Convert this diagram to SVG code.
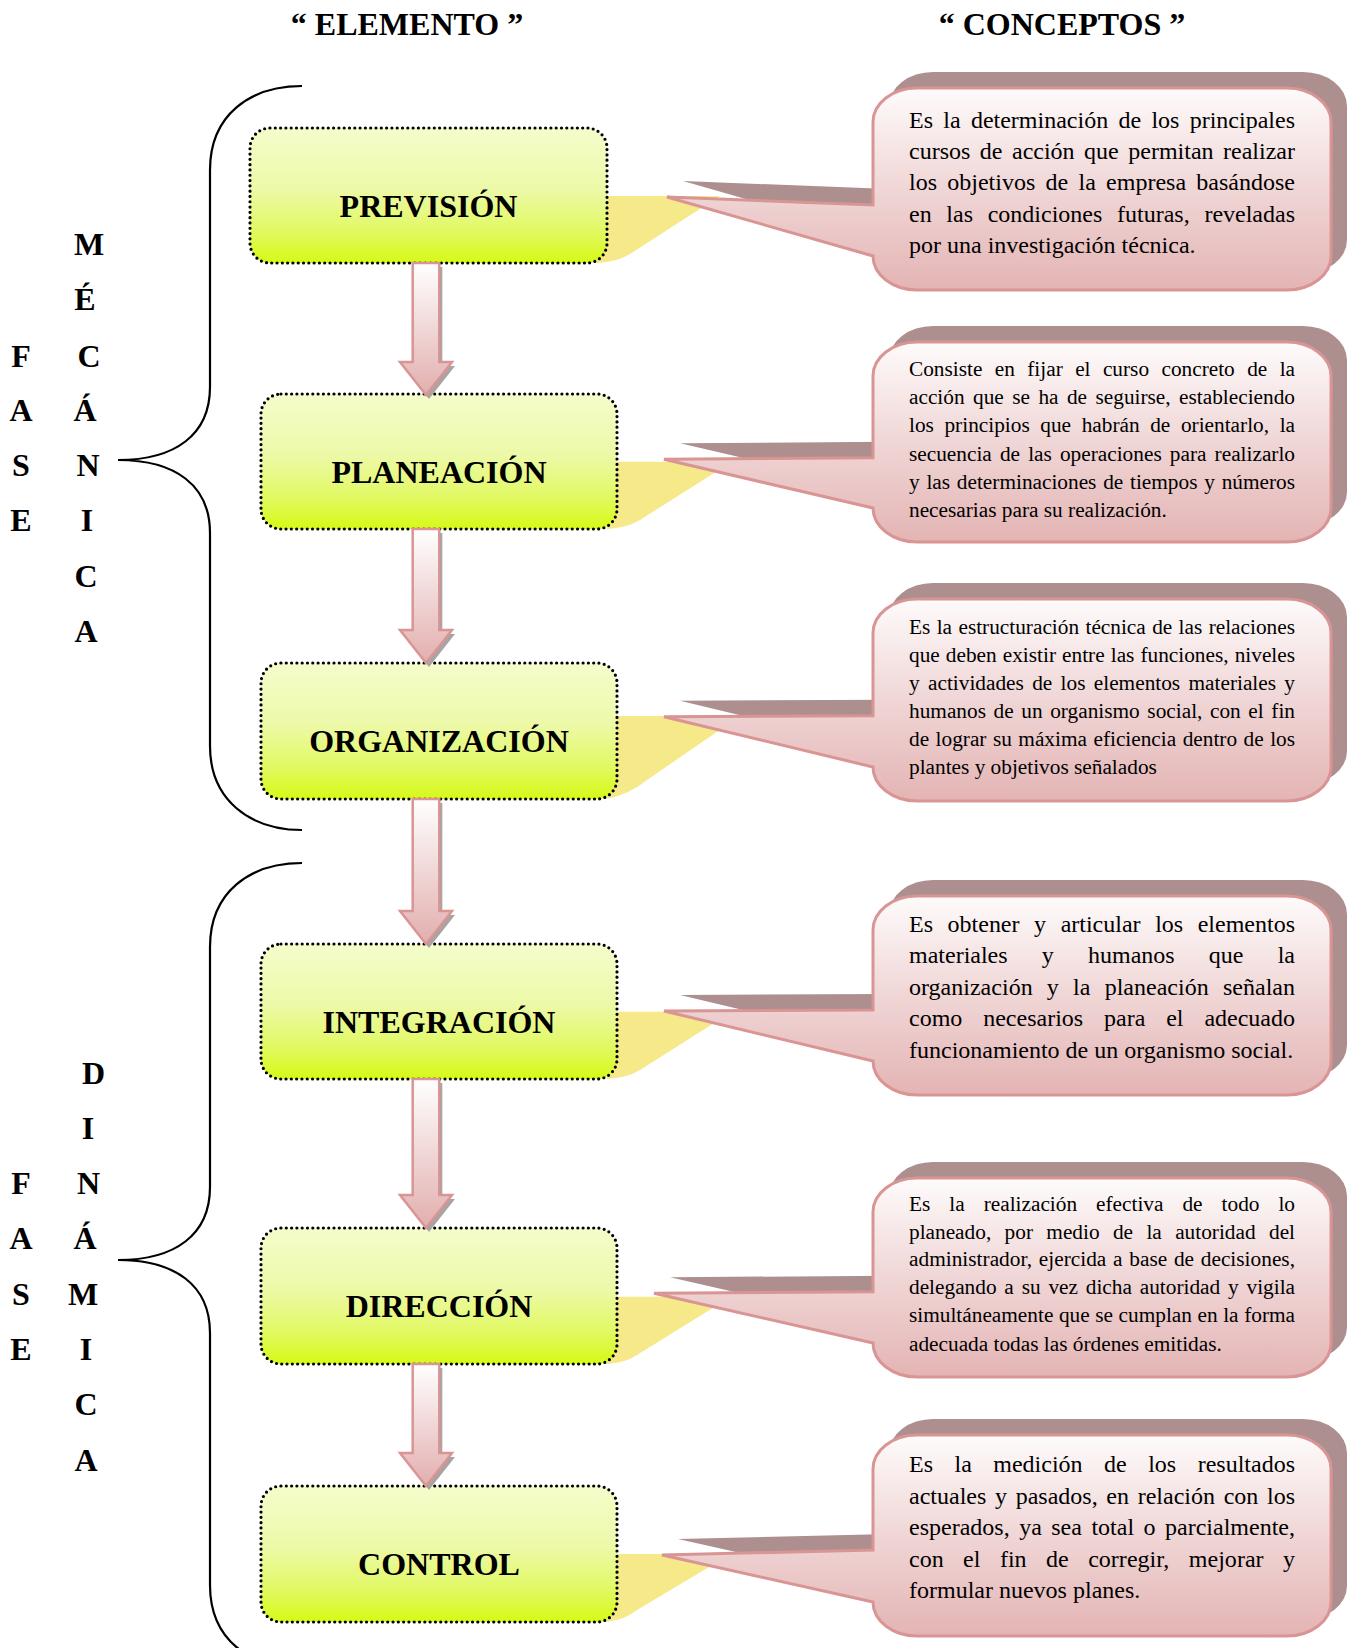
<svg xmlns="http://www.w3.org/2000/svg" xmlns:xlink="http://www.w3.org/1999/xlink" width="1351" height="1648" viewBox="0 0 1351 1648">
<defs>
<linearGradient id="gBox" x1="0" y1="0" x2="0" y2="1">
<stop offset="0" stop-color="#f4fdcc"/>
<stop offset="0.45" stop-color="#edf9a8"/>
<stop offset="0.75" stop-color="#e2f966"/>
<stop offset="1" stop-color="#d7f916"/>
</linearGradient>
<linearGradient id="gBub" x1="0" y1="0" x2="0" y2="1">
<stop offset="0" stop-color="#fefbfb"/>
<stop offset="0.5" stop-color="#f0d6d6"/>
<stop offset="1" stop-color="#e4b4b4"/>
</linearGradient>
<linearGradient id="gArr" x1="0" y1="0" x2="0" y2="1">
<stop offset="0" stop-color="#ffffff"/>
<stop offset="1" stop-color="#e2aeae"/>
</linearGradient>
<path id="p1" d="M917,88 H1287 A44,34 0 0 1 1331,122 V256 A44,34 0 0 1 1287,290 H917 A44,34 0 0 1 873,256 L667,197 L873,205 V122 A44,34 0 0 1 917,88 Z"/>
<path id="p2" d="M917,342 H1287 A44,34 0 0 1 1331,376 V508 A44,34 0 0 1 1287,542 H917 A44,34 0 0 1 873,508 L664,459.3 L873,457.7 V376 A44,34 0 0 1 917,342 Z"/>
<path id="p3" d="M917,599 H1287 A44,34 0 0 1 1331,633 V767 A44,34 0 0 1 1287,801 H917 A44,34 0 0 1 873,767 L664,716.7 L873,715.7 V633 A44,34 0 0 1 917,599 Z"/>
<path id="p4" d="M917,896 H1287 A44,34 0 0 1 1331,930 V1061 A44,34 0 0 1 1287,1095 H917 A44,34 0 0 1 873,1061 L664,1011 L873,1010 V930 A44,34 0 0 1 917,896 Z"/>
<path id="p5" d="M917,1178 H1287 A44,34 0 0 1 1331,1212 V1343 A44,34 0 0 1 1287,1377 H917 A44,34 0 0 1 873,1343 L654,1293.3 L873,1291.7 V1212 A44,34 0 0 1 917,1178 Z"/>
<path id="p6" d="M917,1435 H1287 A44,34 0 0 1 1331,1469 V1602 A44,34 0 0 1 1287,1636 H917 A44,34 0 0 1 873,1602 L662,1555 L873,1550 V1469 A44,34 0 0 1 917,1435 Z"/>
</defs>
<style>
.hdr{font-family:"Liberation Serif","Times New Roman",serif;font-weight:bold;font-size:32px;fill:#000;text-anchor:middle}
.lbl{font-family:"Liberation Serif","Times New Roman",serif;font-weight:bold;font-size:32px;fill:#000;text-anchor:middle}
.let{font-family:"Liberation Serif","Times New Roman",serif;font-weight:bold;font-size:32px;fill:#000;text-anchor:middle}
.box{fill:url(#gBox);stroke:#000;stroke-width:3.2;stroke-dasharray:0 5.3;stroke-linecap:round}
.ytail{fill:#f6e98a;stroke:none}
.sh{fill:#ae8f8f;stroke:none}
.bub{fill:url(#gBub);stroke:#d99594;stroke-width:3;stroke-linejoin:miter}
.tl{font-family:"Liberation Serif","Times New Roman",serif;font-size:24px;fill:#000}
.ts{font-family:"Liberation Serif","Times New Roman",serif;font-size:21.3px;fill:#000}
.arr{fill:url(#gArr);stroke:#d99594;stroke-width:2.5;stroke-linejoin:miter}
.arrsh{fill:#a9a3a3;stroke:none}
.brace{fill:none;stroke:#000;stroke-width:2.2}
</style>
<rect x="0" y="0" width="1351" height="1648" fill="#ffffff"/>

<g id="headers">
<text class="hdr" x="407" y="35">“ ELEMENTO ”</text>
<text class="hdr" x="1062" y="35">“ CONCEPTOS ”</text>
</g>

<g id="braces">
<path class="brace" d="M302,86 C250,86 210,115 210,170 L210,387 C210,435 175,460 118,460 C175,460 210,485 210,533 L210,746 C210,800 250,830 302,830"/>
<path class="brace" d="M302,863 C250,863 210,892 210,947 L210,1187 C210,1235 175,1260 118,1260 C175,1260 210,1285 210,1333 L210,1585 C210,1640 250,1668 302,1668"/>
</g>

<g id="fase-mecanica">
<text class="let" x="21" y="366.7">F</text>
<text class="let" x="21" y="421">A</text>
<text class="let" x="21" y="476">S</text>
<text class="let" x="21" y="531">E</text>
<text class="let" x="89" y="255">M</text>
<text class="let" x="85" y="310">É</text>
<text class="let" x="89" y="366.7">C</text>
<text class="let" x="85" y="421">Á</text>
<text class="let" x="88" y="476">N</text>
<text class="let" x="87" y="531">I</text>
<text class="let" x="86" y="586.5">C</text>
<text class="let" x="86" y="642">A</text>
</g>

<g id="fase-dinamica">
<text class="let" x="21" y="1194">F</text>
<text class="let" x="21" y="1249.4">A</text>
<text class="let" x="21" y="1304.7">S</text>
<text class="let" x="21" y="1360">E</text>
<text class="let" x="93.6" y="1083.5">D</text>
<text class="let" x="88" y="1138.8">I</text>
<text class="let" x="88.5" y="1194">N</text>
<text class="let" x="85" y="1249.4">Á</text>
<text class="let" x="83" y="1304.7">M</text>
<text class="let" x="86" y="1360">I</text>
<text class="let" x="86" y="1415">C</text>
<text class="let" x="86" y="1470.6">A</text>
</g>

<g id="node-prevision">
<path class="ytail" d="M600,196 L720,196 L630,254 Q617,262 597,263 Z"/>
<rect class="box" x="250" y="128" width="357" height="135" rx="20" ry="20"/>
<text class="lbl" x="428.5" y="217">PREVISIÓN</text>
</g>
<g id="node-planeacion">
<path class="ytail" d="M610,461.7 L732,461.7 L640,520 Q627,528 607,529 Z"/>
<rect class="box" x="261" y="394" width="356" height="135" rx="20" ry="20"/>
<text class="lbl" x="439" y="483">PLANEACIÓN</text>
</g>
<g id="node-organizacion">
<path class="ytail" d="M610,716 L740,716 L647,780 Q630,794 607,799 Z"/>
<rect class="box" x="261" y="663" width="356" height="136" rx="20" ry="20"/>
<text class="lbl" x="439" y="752">ORGANIZACIÓN</text>
</g>
<g id="node-integracion">
<path class="ytail" d="M610,1011.7 L732,1011.7 L640,1070 Q627,1078 607,1079 Z"/>
<rect class="box" x="261" y="944" width="356" height="135" rx="20" ry="20"/>
<text class="lbl" x="439" y="1033">INTEGRACIÓN</text>
</g>
<g id="node-direccion">
<path class="ytail" d="M610,1296.7 L731,1296.7 L637,1355 Q625,1363 607,1364 Z"/>
<rect class="box" x="261" y="1228" width="356" height="136" rx="20" ry="20"/>
<text class="lbl" x="439" y="1317">DIRECCIÓN</text>
</g>
<g id="node-control">
<path class="ytail" d="M610,1554 L731,1554 L637,1610 Q625,1620 607,1621.7 Z"/>
<rect class="box" x="261" y="1486" width="356" height="136" rx="20" ry="20"/>
<text class="lbl" x="439" y="1575">CONTROL</text>
</g>

<g id="connectors">
<path class="arrsh" transform="translate(3,4)" d="M412.7,263 H439.3 V362 H452 L426,395 L400,362 H412.7 Z"/>
<path class="arr" d="M412.7,263 H439.3 V362 H452 L426,395 L400,362 H412.7 Z"/>
<path class="arrsh" transform="translate(3,4)" d="M412.7,529 H439.3 V630 H452 L426,663 L400,630 H412.7 Z"/>
<path class="arr" d="M412.7,529 H439.3 V630 H452 L426,663 L400,630 H412.7 Z"/>
<path class="arrsh" transform="translate(3,4)" d="M412.7,799 H439.3 V911 H452 L426,944 L400,911 H412.7 Z"/>
<path class="arr" d="M412.7,799 H439.3 V911 H452 L426,944 L400,911 H412.7 Z"/>
<path class="arrsh" transform="translate(3,4)" d="M412.7,1079 H439.3 V1195 H452 L426,1228 L400,1195 H412.7 Z"/>
<path class="arr" d="M412.7,1079 H439.3 V1195 H452 L426,1228 L400,1195 H412.7 Z"/>
<path class="arrsh" transform="translate(3,4)" d="M412.7,1364 H439.3 V1453 H452 L426,1486 L400,1453 H412.7 Z"/>
<path class="arr" d="M412.7,1364 H439.3 V1453 H452 L426,1486 L400,1453 H412.7 Z"/>
</g>

<g id="concept-prevision">
<use xlink:href="#p1" class="sh" transform="translate(16,-16)"/>
<use xlink:href="#p1" class="bub"/>
<text class="tl" x="909" y="127.5" word-spacing="4.28" textLength="386" lengthAdjust="spacing">Es la determinación de los principales</text>
<text class="tl" x="909" y="159" word-spacing="3.49" textLength="386" lengthAdjust="spacing">cursos de acción que permitan realizar</text>
<text class="tl" x="909" y="190.4" word-spacing="4.28" textLength="386" lengthAdjust="spacing">los objetivos de la empresa basándose</text>
<text class="tl" x="909" y="221.9" word-spacing="8.69" textLength="386" lengthAdjust="spacing">en las condiciones futuras, reveladas</text>
<text class="tl" x="909" y="253.3">por una investigación técnica.</text>
</g>

<g id="concept-planeacion">
<use xlink:href="#p2" class="sh" transform="translate(16,-16)"/>
<use xlink:href="#p2" class="bub"/>
<text class="ts" x="909" y="376" word-spacing="7.06" textLength="386" lengthAdjust="spacing">Consiste en fijar el curso concreto de la</text>
<text class="ts" x="909" y="404.2" word-spacing="3.11" textLength="386" lengthAdjust="spacing">acción que se ha de seguirse, estableciendo</text>
<text class="ts" x="909" y="432.4" word-spacing="5.28" textLength="386" lengthAdjust="spacing">los principios que habrán de orientarlo, la</text>
<text class="ts" x="909" y="460.6" word-spacing="2.8" textLength="386" lengthAdjust="spacing">secuencia de las operaciones para realizarlo</text>
<text class="ts" x="909" y="488.8" word-spacing="1.43" textLength="386" lengthAdjust="spacing">y las determinaciones de tiempos y números</text>
<text class="ts" x="909" y="517">necesarias para su realización.</text>
</g>

<g id="concept-organizacion">
<use xlink:href="#p3" class="sh" transform="translate(16,-16)"/>
<use xlink:href="#p3" class="bub"/>
<text class="ts" x="909" y="633.5" word-spacing="1.04" textLength="386" lengthAdjust="spacing">Es la estructuración técnica de las relaciones</text>
<text class="ts" x="909" y="661.5" word-spacing="0.74" textLength="386" lengthAdjust="spacing">que deben existir entre las funciones, niveles</text>
<text class="ts" x="909" y="689.5" word-spacing="3.0" textLength="386" lengthAdjust="spacing">y actividades de los elementos materiales y</text>
<text class="ts" x="909" y="717.5" word-spacing="2.24" textLength="386" lengthAdjust="spacing">humanos de un organismo social, con el fin</text>
<text class="ts" x="909" y="745.5" word-spacing="1.14" textLength="386" lengthAdjust="spacing">de lograr su máxima eficiencia dentro de los</text>
<text class="ts" x="909" y="773.5">plantes y objetivos señalados</text>
</g>

<g id="concept-integracion">
<use xlink:href="#p4" class="sh" transform="translate(16,-16)"/>
<use xlink:href="#p4" class="bub"/>
<text class="tl" x="909" y="931.5" word-spacing="8.55" textLength="386" lengthAdjust="spacing">Es obtener y articular los elementos</text>
<text class="tl" x="909" y="963" word-spacing="28.2" textLength="386" lengthAdjust="spacing">materiales y humanos que la</text>
<text class="tl" x="909" y="994.5" word-spacing="8.19" textLength="386" lengthAdjust="spacing">organización y la planeación señalan</text>
<text class="tl" x="909" y="1026" word-spacing="14.86" textLength="386" lengthAdjust="spacing">como necesarios para el adecuado</text>
<text class="tl" x="909" y="1057.5">funcionamiento de un organismo social.</text>
</g>

<g id="concept-direccion">
<use xlink:href="#p5" class="sh" transform="translate(16,-16)"/>
<use xlink:href="#p5" class="bub"/>
<text class="ts" x="909" y="1211" word-spacing="13.66" textLength="386" lengthAdjust="spacing">Es la realización efectiva de todo lo</text>
<text class="ts" x="909" y="1238.5" word-spacing="8.04" textLength="386" lengthAdjust="spacing">planeado, por medio de la autoridad del</text>
<text class="ts" x="909" y="1266" word-spacing="1.37" textLength="386" lengthAdjust="spacing">administrador, ejercida a base de decisiones,</text>
<text class="ts" x="909" y="1294" word-spacing="2.5" textLength="386" lengthAdjust="spacing">delegando a su vez dicha autoridad y vigila</text>
<text class="ts" x="909" y="1322" word-spacing="0.25" textLength="386" lengthAdjust="spacing">simultáneamente que se cumplan en la forma</text>
<text class="ts" x="909" y="1350.5">adecuada todas las órdenes emitidas.</text>
</g>

<g id="concept-control">
<use xlink:href="#p6" class="sh" transform="translate(16,-16)"/>
<use xlink:href="#p6" class="bub"/>
<text class="tl" x="909" y="1472" word-spacing="15.47" textLength="386" lengthAdjust="spacing">Es la medición de los resultados</text>
<text class="tl" x="909" y="1503.5" word-spacing="2.64" textLength="386" lengthAdjust="spacing">actuales y pasados, en relación con los</text>
<text class="tl" x="909" y="1535" word-spacing="3.48" textLength="386" lengthAdjust="spacing">esperados, ya sea total o parcialmente,</text>
<text class="tl" x="909" y="1566.5" word-spacing="13.35" textLength="386" lengthAdjust="spacing">con el fin de corregir, mejorar y</text>
<text class="tl" x="909" y="1598">formular nuevos planes.</text>
</g>
</svg>
